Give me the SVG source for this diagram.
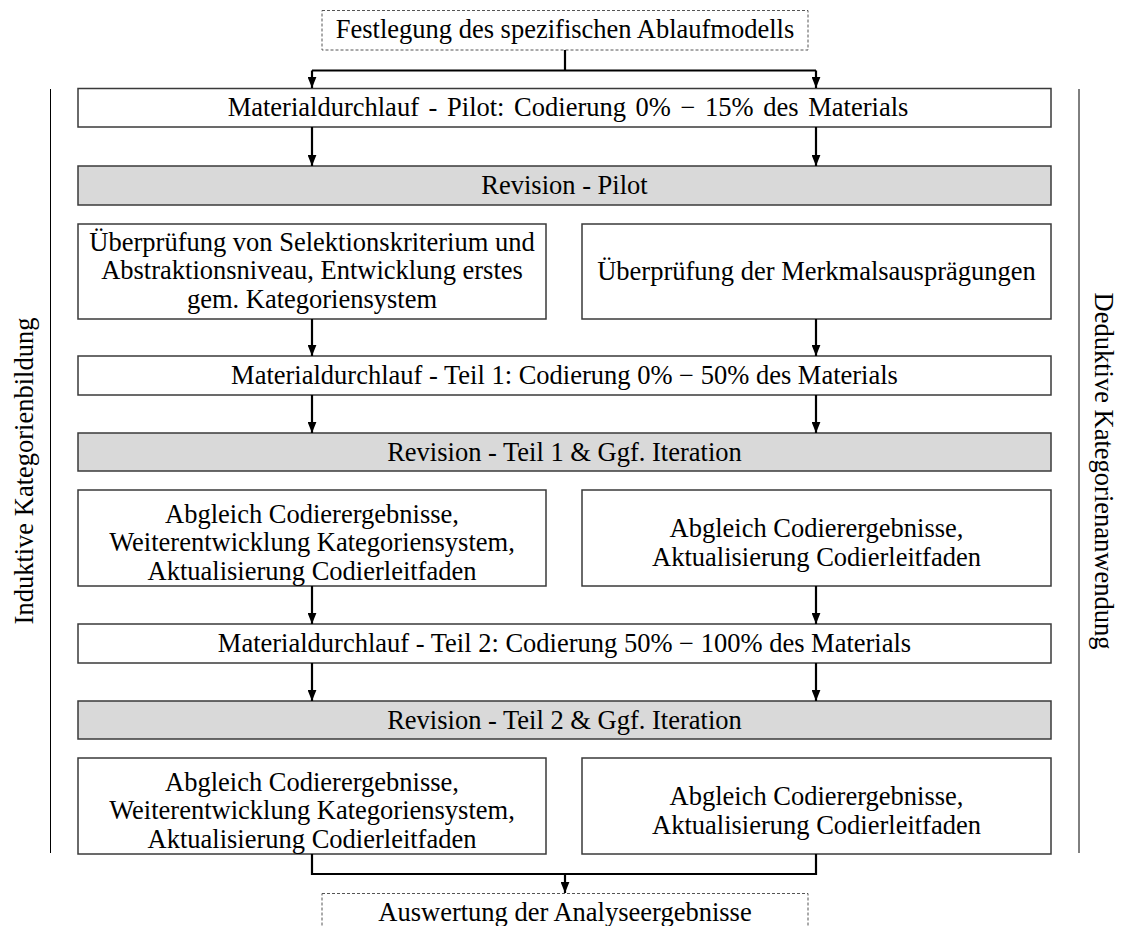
<svg xmlns="http://www.w3.org/2000/svg" width="1121" height="926" viewBox="0 0 1121 926">
<style>
text{font-family:"Liberation Serif","Times New Roman",serif;font-size:26.5px;fill:#000;text-anchor:middle}
.box{fill:#fff;stroke:#3a3a3a;stroke-width:1.5}
.gray{fill:#d9d9d9;stroke:#3a3a3a;stroke-width:1.5}
.dash{fill:#fff;stroke:#555;stroke-width:1;stroke-dasharray:3,2}
.con{fill:none;stroke:#000;stroke-width:2.2}
.side{fill:none;stroke:#000;stroke-width:1}
</style>
<defs>
<marker id="ah" viewBox="0 0 10 8" refX="10" refY="4" markerWidth="11" markerHeight="9" markerUnits="userSpaceOnUse" orient="auto">
<path d="M0,0 L10,4 L0,8 z" fill="#000"/>
</marker>
</defs>
<g id="side-lines">
<line class="side" x1="50.5" y1="89" x2="50.5" y2="853"/>
<line class="side" x1="1079" y1="89" x2="1079" y2="853"/>
</g>
<g id="label-left"><text transform="translate(33,471) rotate(-90)">Induktive Kategorienbildung</text></g>
<g id="label-right"><text transform="translate(1095,471) rotate(90)">Deduktive Kategorienanwendung</text></g>
<g id="start"><rect class="dash" x="322" y="10.5" width="486" height="39.5"/><text x="565" y="38">Festlegung des spezifischen Ablaufmodells</text></g>
<g id="mat1"><rect class="box" x="78" y="88.5" width="973" height="38.5"/><text x="568" y="116" word-spacing="3">Materialdurchlauf - Pilot: Codierung 0% − 15% des Materials</text></g>
<g id="rev1"><rect class="gray" x="78" y="166" width="973" height="39"/><text x="564.5" y="194">Revision - Pilot</text></g>
<g id="pilot-left"><rect class="box" x="78" y="224" width="468" height="95"/><text x="312" y="250.5">Überprüfung von Selektionskriterium und</text><text x="312" y="279">Abstraktionsniveau, Entwicklung erstes</text><text x="312" y="307.5">gem. Kategoriensystem</text></g>
<g id="pilot-right"><rect class="box" x="582" y="224" width="469" height="95"/><text x="816.5" y="280">Überprüfung der Merkmalsausprägungen</text></g>
<g id="mat2"><rect class="box" x="78" y="356" width="973" height="39"/><text x="564.5" y="384">Materialdurchlauf - Teil 1: Codierung 0% − 50% des Materials</text></g>
<g id="rev2"><rect class="gray" x="78" y="433" width="973" height="38"/><text x="564.5" y="461">Revision - Teil 1 &amp; Ggf. Iteration</text></g>
<g id="t1-left"><rect class="box" x="78" y="490" width="468" height="96"/><text x="312" y="522.5">Abgleich Codierergebnisse,</text><text x="312" y="551">Weiterentwicklung Kategoriensystem,</text><text x="312" y="579.5">Aktualisierung Codierleitfaden</text></g>
<g id="t1-right"><rect class="box" x="582" y="490" width="469" height="96"/><text x="816.5" y="537">Abgleich Codierergebnisse,</text><text x="816.5" y="565.5">Aktualisierung Codierleitfaden</text></g>
<g id="mat3"><rect class="box" x="78" y="624" width="973" height="39"/><text x="564.5" y="652">Materialdurchlauf - Teil 2: Codierung 50% − 100% des Materials</text></g>
<g id="rev3"><rect class="gray" x="78" y="701" width="973" height="38"/><text x="564.5" y="729">Revision - Teil 2 &amp; Ggf. Iteration</text></g>
<g id="t2-left"><rect class="box" x="78" y="758" width="468" height="96"/><text x="312" y="790.5">Abgleich Codierergebnisse,</text><text x="312" y="819">Weiterentwicklung Kategoriensystem,</text><text x="312" y="847.5">Aktualisierung Codierleitfaden</text></g>
<g id="t2-right"><rect class="box" x="582" y="758" width="469" height="96"/><text x="816.5" y="805">Abgleich Codierergebnisse,</text><text x="816.5" y="833.5">Aktualisierung Codierleitfaden</text></g>
<g id="end"><rect class="dash" x="322" y="893.5" width="486" height="40"/><text x="565" y="921">Auswertung der Analyseergebnisse</text></g>
<g id="connectors">
<path class="con" d="M565,50 V70.5 M312,70.5 H816"/>
<path class="con" d="M312,70.5 V88" marker-end="url(#ah)"/>
<path class="con" d="M816,70.5 V88" marker-end="url(#ah)"/>
<path class="con" d="M312,127 V166" marker-end="url(#ah)"/>
<path class="con" d="M816,127 V166" marker-end="url(#ah)"/>
<path class="con" d="M312,319 V356" marker-end="url(#ah)"/>
<path class="con" d="M816,319 V356" marker-end="url(#ah)"/>
<path class="con" d="M312,395 V433" marker-end="url(#ah)"/>
<path class="con" d="M816,395 V433" marker-end="url(#ah)"/>
<path class="con" d="M312,586 V624" marker-end="url(#ah)"/>
<path class="con" d="M816,586 V624" marker-end="url(#ah)"/>
<path class="con" d="M312,663 V701" marker-end="url(#ah)"/>
<path class="con" d="M816,663 V701" marker-end="url(#ah)"/>
<path class="con" d="M312,854 V874 H816 V854"/>
<path class="con" d="M565,874 V893" marker-end="url(#ah)"/>
</g>
</svg>
